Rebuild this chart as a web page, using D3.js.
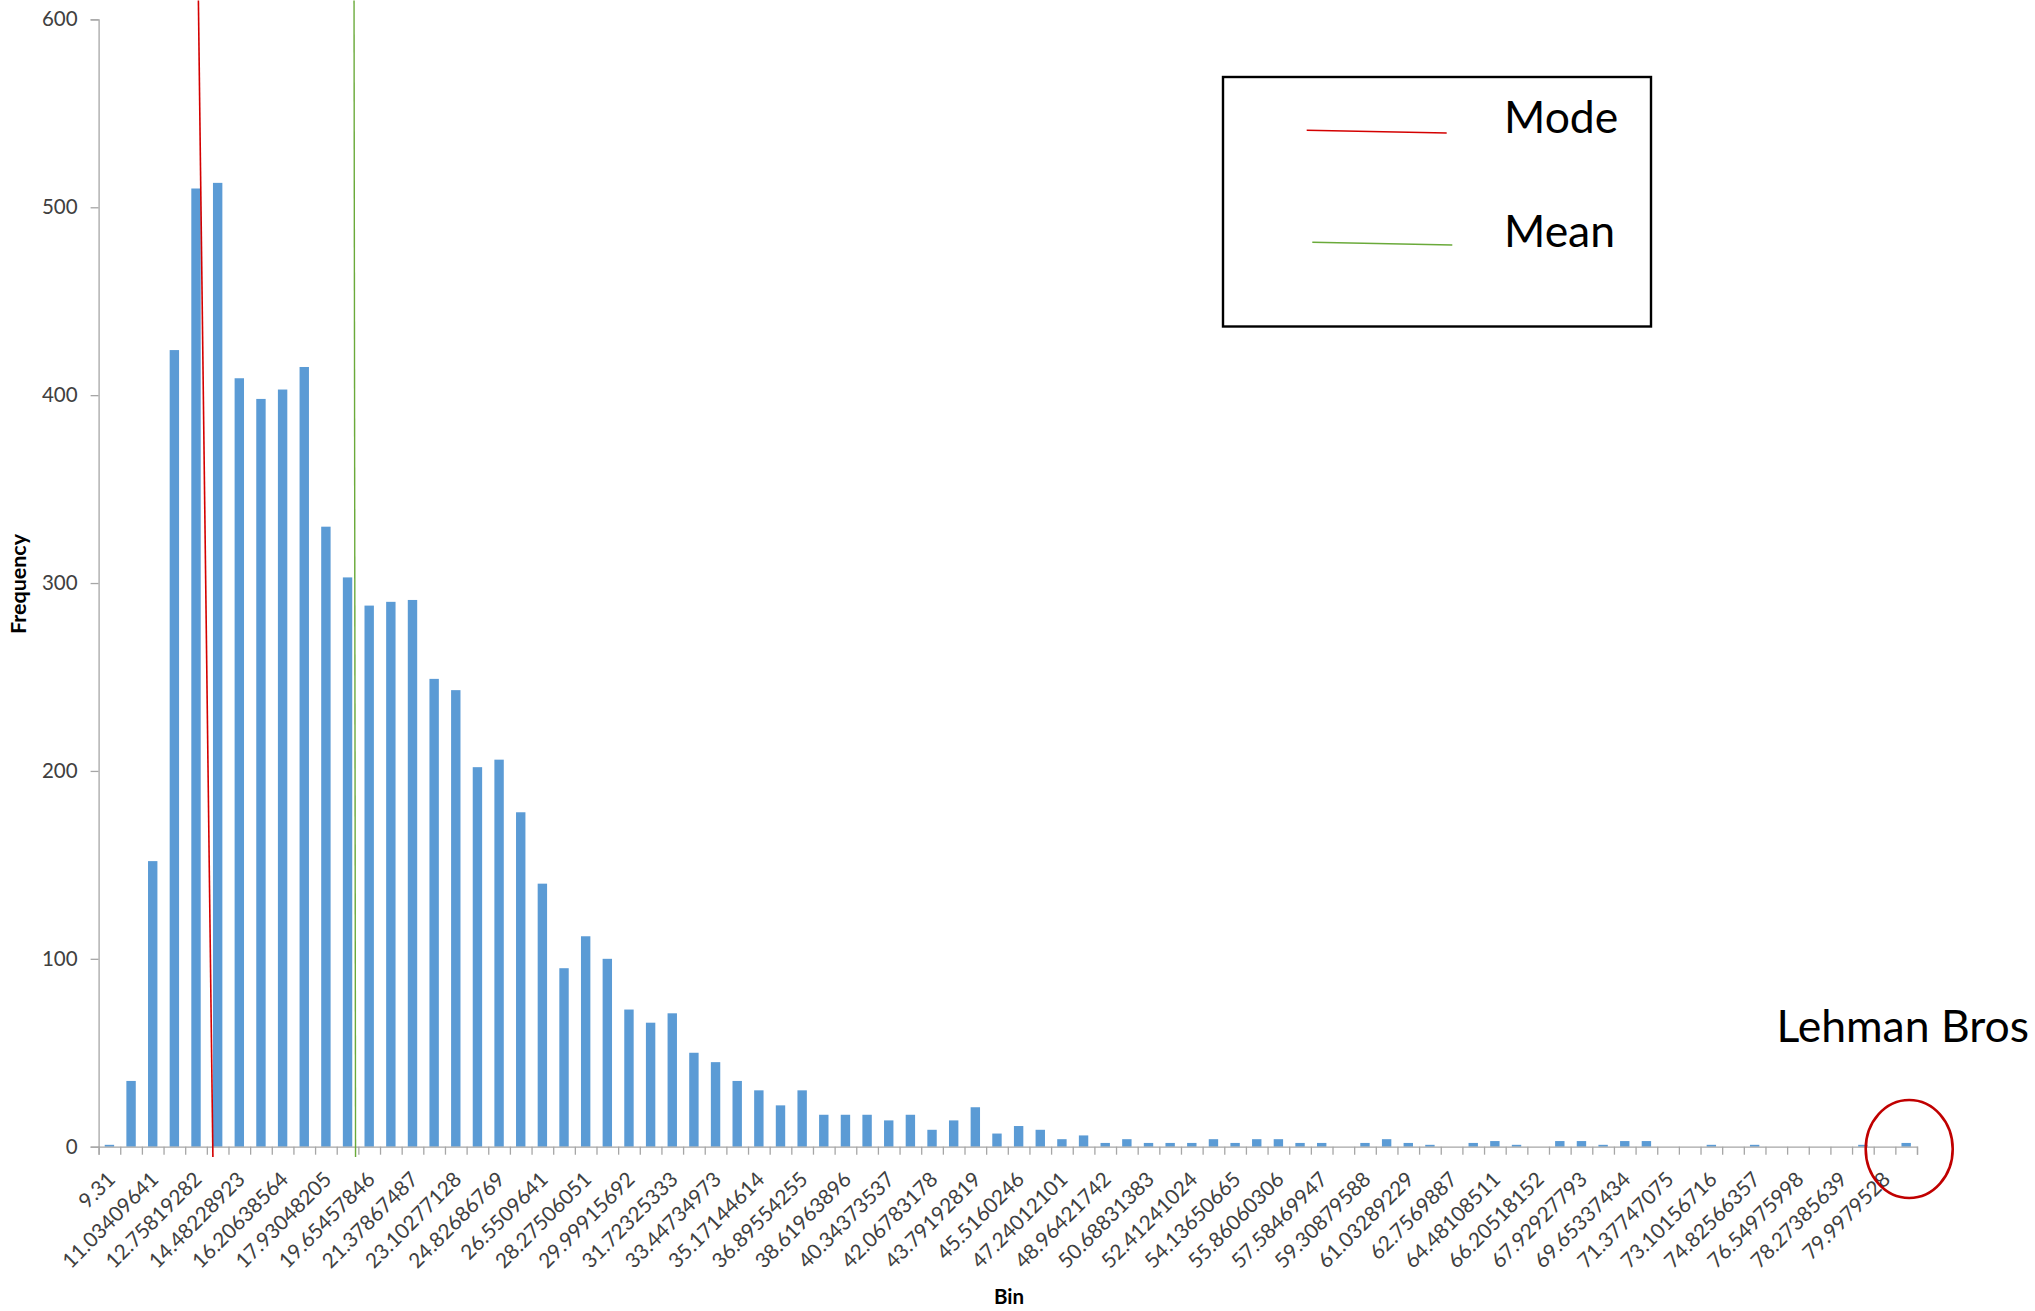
<!DOCTYPE html>
<html>
<head>
<meta charset="utf-8">
<script src="https://cdn.jsdelivr.net/npm/d3@7"></script>
<style>
  html, body { margin: 0; padding: 0; background: #ffffff; }
  svg { display: block; }
</style>
</head>
<body>
<svg id="chart" width="2035" height="1311"></svg>
<script>
// ---------------- DATA ----------------
// Visible bin labels (Excel shows every second category label)
const binLabels = [
  "9.31", "11.03409641", "12.75819282", "14.48228923", "16.20638564",
  "17.93048205", "19.65457846", "21.37867487", "23.10277128", "24.82686769",
  "26.5509641", "28.27506051", "29.99915692", "31.72325333", "33.44734973",
  "35.17144614", "36.89554255", "38.61963896", "40.34373537", "42.06783178",
  "43.79192819", "45.5160246", "47.24012101", "48.96421742", "50.68831383",
  "52.41241024", "54.13650665", "55.86060306", "57.58469947", "59.30879588",
  "61.03289229", "62.7569887", "64.48108511", "66.20518152", "67.92927793",
  "69.65337434", "71.37747075", "73.10156716", "74.82566357", "76.54975998",
  "78.27385639", "79.9979528"
];
// Frequency of each of the 84 categories
const frequencies = [
  1, 35, 152, 424, 510, 513, 409, 398, 403, 415,
  330, 303, 288, 290, 291, 249, 243, 202, 206, 178,
  140, 95, 112, 100, 73, 66, 71, 50, 45, 35,
  30, 22, 30, 17, 17, 17, 14, 17, 9, 14,
  21, 7, 11, 9, 4, 6, 2, 4, 2, 2,
  2, 4, 2, 4, 4, 2, 2, 0, 2, 4,
  2, 1, 0, 2, 3, 1, 0, 3, 3, 1,
  3, 3, 0, 0, 1, 0, 1, 0, 0, 0,
  0, 1, 0, 2
];
const yTickValues = [0, 100, 200, 300, 400, 500, 600];
const legendItems = ["Mode", "Mean"];
const legendColors = ["#d40000", "#6aaa3a"];
const calloutText = "Lehman Bros";
const xTitle = "Bin";
const yTitle = "Frequency";
// hand-drawn annotation positions, in (category units, frequency units)
const modeLine = [[4.61, 610], [5.28, -5.5]];
const meanLine = [[11.80, 610], [11.87, -5.5]];
const lehmanCircle = { cx: 83.64, cy: -1.2 };

// ---------------- LAYOUT ----------------
const W = 2035, H = 1311;
const plot = { left: 98.6, right: 1917, top: 19.4, bottom: 1146.7 };
const font = "Lato, 'Open Sans', sans-serif";

const svg = d3.select("#chart");

const nCat = frequencies.length;
const categories = d3.range(nCat);
const x = d3.scaleBand().domain(categories).range([plot.left, plot.right]).padding(0);
const xLin = d3.scaleLinear().domain([0, nCat]).range([plot.left, plot.right]);
const y = d3.scaleLinear().domain([0, 600]).range([plot.bottom, plot.top]);

const barW = 9.4;

// bars
svg.append("g")
  .selectAll("rect")
  .data(frequencies)
  .join("rect")
  .attr("x", (d, i) => x(i) + (x.bandwidth() - barW) / 2)
  .attr("y", d => y(d))
  .attr("width", barW)
  .attr("height", d => Math.max(0, y(0) - y(d)))
  .attr("fill", "#5b9bd5");

// y axis
const yAxis = d3.axisLeft(y).tickValues(yTickValues).tickSize(8).tickPadding(13);
const gy = svg.append("g").attr("transform", `translate(${plot.left},0)`).call(yAxis);
gy.select(".domain").attr("stroke", "#a6a6a6").attr("stroke-width", 1.3);
gy.selectAll(".tick line").attr("stroke", "#a6a6a6").attr("stroke-width", 1.3);
gy.selectAll(".tick text")
  .attr("font-family", font).attr("font-size", 20.5).attr("fill", "#404040");

// x axis (ticks at category boundaries)
const xAxis = d3.axisBottom(xLin).tickValues(d3.range(0, nCat + 1)).tickSize(8).tickFormat("");
const gx = svg.append("g").attr("transform", `translate(0,${plot.bottom})`).call(xAxis);
gx.select(".domain").attr("stroke", "#a6a6a6").attr("stroke-width", 1.3);
gx.selectAll(".tick line").attr("stroke", "#a6a6a6").attr("stroke-width", 1.3);

// x labels, every second category, rotated -45
svg.append("g")
  .selectAll("text")
  .data(binLabels)
  .join("text")
  .attr("transform", (d, k) => {
    const cx = x(k * 2) + x.bandwidth() / 2 + 7;
    const cy = plot.bottom + 34;
    return `translate(${cx},${cy}) rotate(-45)`;
  })
  .attr("text-anchor", "end")
  .attr("font-family", font)
  .attr("font-size", 20.8)
  .attr("fill", "#404040")
  .text(d => d);

// axis titles
svg.append("text")
  .attr("x", 1009).attr("y", 1304)
  .attr("text-anchor", "middle")
  .attr("font-family", font).attr("font-weight", "bold").attr("font-size", 20.5)
  .attr("fill", "#000")
  .text(xTitle);

svg.append("text")
  .attr("transform", `translate(26,584) rotate(-90)`)
  .attr("text-anchor", "middle")
  .attr("font-family", font).attr("font-weight", "bold").attr("font-size", 21.5)
  .attr("fill", "#000")
  .text(yTitle);

// mode / mean lines
const line = d3.line().x(d => xLin(d[0])).y(d => y(d[1]));
svg.append("path").attr("d", line(modeLine))
  .attr("stroke", legendColors[0]).attr("stroke-width", 1.6).attr("fill", "none");
svg.append("path").attr("d", line(meanLine))
  .attr("stroke", legendColors[1]).attr("stroke-width", 1.4).attr("fill", "none");

// legend box
const leg = svg.append("g");
leg.append("rect")
  .attr("x", 1223).attr("y", 77).attr("width", 428).attr("height", 249.5)
  .attr("fill", "#fff").attr("stroke", "#000").attr("stroke-width", 2.4);
const legLines = [
  [[1306.7, 130.3], [1446.7, 133]],
  [[1312.3, 242.3], [1452.3, 245]]
];
const legBaselines = [132.7, 246.7];
legendItems.forEach((name, i) => {
  leg.append("line")
    .attr("x1", legLines[i][0][0]).attr("y1", legLines[i][0][1])
    .attr("x2", legLines[i][1][0]).attr("y2", legLines[i][1][1])
    .attr("stroke", legendColors[i]).attr("stroke-width", 1.6);
  leg.append("text")
    .attr("x", 1504).attr("y", legBaselines[i])
    .attr("font-family", font).attr("font-size", 44.5)
    .attr("fill", "#000")
    .text(name);
});

// Lehman Bros callout
svg.append("text")
  .attr("x", 2029).attr("y", 1042)
  .attr("text-anchor", "end")
  .attr("font-family", font).attr("font-size", 44.5)
  .attr("fill", "#000")
  .text(calloutText);

svg.append("ellipse")
  .attr("cx", xLin(lehmanCircle.cx)).attr("cy", y(lehmanCircle.cy))
  .attr("rx", 43.5).attr("ry", 49)
  .attr("fill", "none").attr("stroke", "#c00000").attr("stroke-width", 2.6);
</script>
</body>
</html>
